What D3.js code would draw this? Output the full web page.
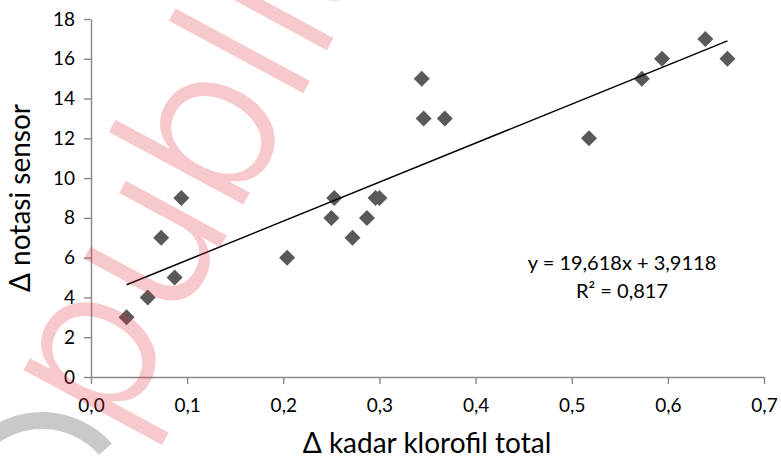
<!DOCTYPE html>
<html><head><meta charset="utf-8">
<script src="https://cdn.jsdelivr.net/npm/d3@7"></script>
<style>html,body{margin:0;padding:0;background:#fff;}svg{display:block;}</style>
</head><body>
<script>
// ---- data ----
const klorofil = [0.037,0.059,0.073,0.087,0.094,0.204,0.250,0.253,0.272,0.287,0.296,0.300,0.344,0.346,0.368,0.518,0.573,0.594,0.639,0.662];
const notasi   = [3,4,7,5,9,6,8,9,7,8,9,9,15,13,13,12,15,16,17,16];
const xTicks = [0,0.1,0.2,0.3,0.4,0.5,0.6,0.7];
const xTickLabels = ["0,0","0,1","0,2","0,3","0,4","0,5","0,6","0,7"];
const yTicks = [0,2,4,6,8,10,12,14,16,18];
const trendCoef = [19.618, 3.9118];
const eqLines = ["y = 19,618x + 3,9118", "R² = 0,817"];
const xTitle = "Δ kadar klorofil total";
const yTitle = "Δ notasi sensor";

const W = 781, H = 461;
const font = "Lato, 'Open Sans', sans-serif";
const svg = d3.select("body").append("svg").attr("width", W).attr("height", H);

const x = d3.scaleLinear().domain([0, 0.7]).range([91, 764]);
const y = d3.scaleLinear().domain([0, 18]).range([377, 19]);

// axes
const ax = svg.append("g").attr("transform", `translate(0,${y(0)})`)
  .call(d3.axisBottom(x).tickValues(xTicks).tickSize(7).tickSizeOuter(0).tickPadding(15)
    .tickFormat((d, i) => xTickLabels[i]));
const ay = svg.append("g").attr("transform", `translate(${x(0)},0)`)
  .call(d3.axisLeft(y).tickValues(yTicks).tickSize(7).tickSizeOuter(0).tickPadding(9));
[ax, ay].forEach(g => {
  g.selectAll("path.domain").attr("stroke", "#898989").attr("stroke-width", 1.4);
  g.selectAll(".tick line").attr("stroke", "#898989").attr("stroke-width", 1.4);
  g.selectAll(".tick text").attr("fill", "#000").style("font-family", font).style("font-size", "19px");
});

// points
const diamond = d3.symbol().type(d3.symbolSquare).size(128);
svg.append("g").selectAll("path").data(klorofil).join("path")
  .attr("d", diamond)
  .attr("transform", (d, i) => `translate(${x(d)},${y(notasi[i])}) rotate(45)`)
  .attr("fill", "#595959");

// trendline
const [xmin, xmax] = d3.extent(klorofil);
svg.append("line")
  .attr("x1", x(xmin)).attr("y1", y(trendCoef[0] * xmin + trendCoef[1]))
  .attr("x2", x(xmax)).attr("y2", y(trendCoef[0] * xmax + trendCoef[1]))
  .attr("stroke", "#000").attr("stroke-width", 1.5);

// equation
svg.append("g").selectAll("text").data(eqLines).join("text")
  .attr("x", 622).attr("y", (d, i) => 270 + i * 28)
  .attr("text-anchor", "middle")
  .style("font-family", font).style("font-size", "20px").attr("fill", "#000")
  .text(d => d);

// axis titles
svg.append("text").attr("x", 427).attr("y", 453).attr("text-anchor", "middle")
  .style("font-family", font).style("font-size", "28px").attr("fill", "#000").text(xTitle);
svg.append("text").attr("transform", "translate(30,198) rotate(-90)").attr("text-anchor", "middle")
  .style("font-family", font).style("font-size", "28px").attr("fill", "#000").text(yTitle);

// watermark overlays
svg.append("path")
  .attr("d", d3.arc()({innerRadius: 76, outerRadius: 93, startAngle: -0.8, endAngle: 0.85}))
  .attr("transform", "translate(42,505)")
  .attr("fill", "#c9c9c9");
svg.append("text")
  .attr("transform", "translate(116,440) rotate(-61.6)")
  .style("font-family", "Inter, 'DejaVu Sans', sans-serif").style("font-size", "210px").style("font-weight", 300)
  .attr("fill", "rgb(225,47,58)").attr("fill-opacity", 0.26)
  .text("publish");
</script>
</body></html>
